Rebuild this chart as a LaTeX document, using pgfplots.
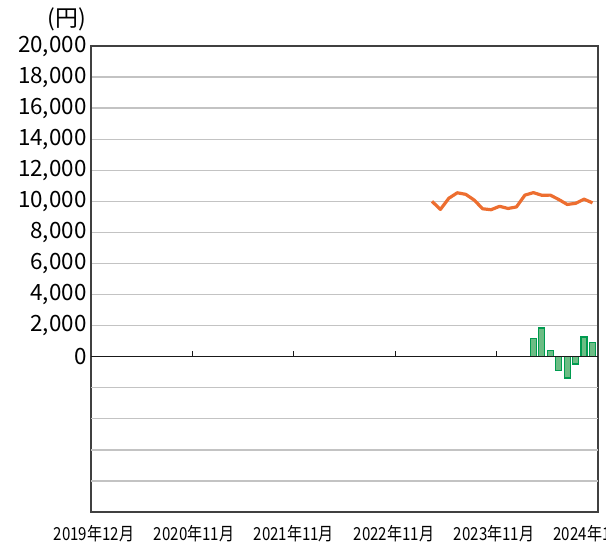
\documentclass[border=0pt]{standalone}
\usepackage{pgfplots}
\pgfplotsset{compat=1.18}
\usepackage{fontspec}
\setmainfont{Noto Sans CJK JP}
\newfontfamily\cjkn[FakeStretch=0.84]{Noto Sans CJK JP}
\definecolor{lineor}{RGB}{237,110,48}
\definecolor{barfill}{RGB}{108,188,132}
\definecolor{baredge}{RGB}{0,155,80}
\definecolor{gridc}{RGB}{195,195,195}
\begin{document}
\begin{tikzpicture}
\begin{axis}[
  scale only axis, width=507bp, height=466bp,
  xmin=0, xmax=60, ymin=-10000, ymax=20000,
  xtick={0.35,12.2,24.0,35.85,47.7,59.5},
  xticklabels={2019年12月,2020年11月,2021年11月,2022年11月,2023年11月,2024年11月},
  xticklabel style={font=\cjkn\fontsize{18}{18}\selectfont, yshift=-10bp},
  ytick={0,2000,4000,6000,8000,10000,12000,14000,16000,18000,20000},
  yticklabels={0,{2,000},{4,000},{6,000},{8,000},{10,000},{12,000},{14,000},{16,000},{18,000},{20,000}},
  extra y ticks={-8000,-6000,-4000,-2000},
  extra y tick labels={},
  extra y tick style={grid=major},
  ymajorgrids,
  grid style={gridc, line width=1.3bp},
  major tick length=0pt,
  scaled y ticks=false,
  yticklabel style={font=\fontsize{22.5}{22.5}\selectfont, xshift=-1bp},
  axis line style={black!75, line width=1.2bp},
  tick style={draw=none},
]
\addplot[ybar, bar width=6bp, bar shift=0pt, fill=barfill, draw=baredge, line width=1.3bp]
  coordinates {(52.35,1180) (53.35,1850) (54.35,400) (55.35,-880) (56.35,-1380) (57.35,-470) (58.35,1270) (59.35,920)};
\addplot[lineor, line width=3.2bp, line join=round]
  coordinates {(40.35,10000) (41.35,9480) (42.35,10200) (43.35,10550) (44.35,10450) (45.35,10080) (46.35,9520) (47.35,9460) (48.35,9680) (49.35,9540) (50.35,9640) (51.35,10400) (52.35,10560) (53.35,10390) (54.35,10400) (55.35,10120) (56.35,9800) (57.35,9870) (58.35,10140) (59.35,9900)};
\draw[black!90, line width=1.3bp] (axis cs:0,0) -- (axis cs:60,0);
\pgfplotsinvokeforeach{12,24,36,48}{\draw[black!90, line width=1.2bp] (axis cs:#1,0) -- ([yshift=6bp]axis cs:#1,0);}
\end{axis}
\node[anchor=south east, font=\fontsize{23}{23}\selectfont, inner sep=0pt] at ([shift={(-5bp,15bp)}]current axis.north west) {(円)};
\pgfresetboundingbox
\path[use as bounding box] ([shift={(-91bp,-38bp)}]current axis.south west) rectangle ([shift={(8bp,46bp)}]current axis.north east);
\end{tikzpicture}
\end{document}
